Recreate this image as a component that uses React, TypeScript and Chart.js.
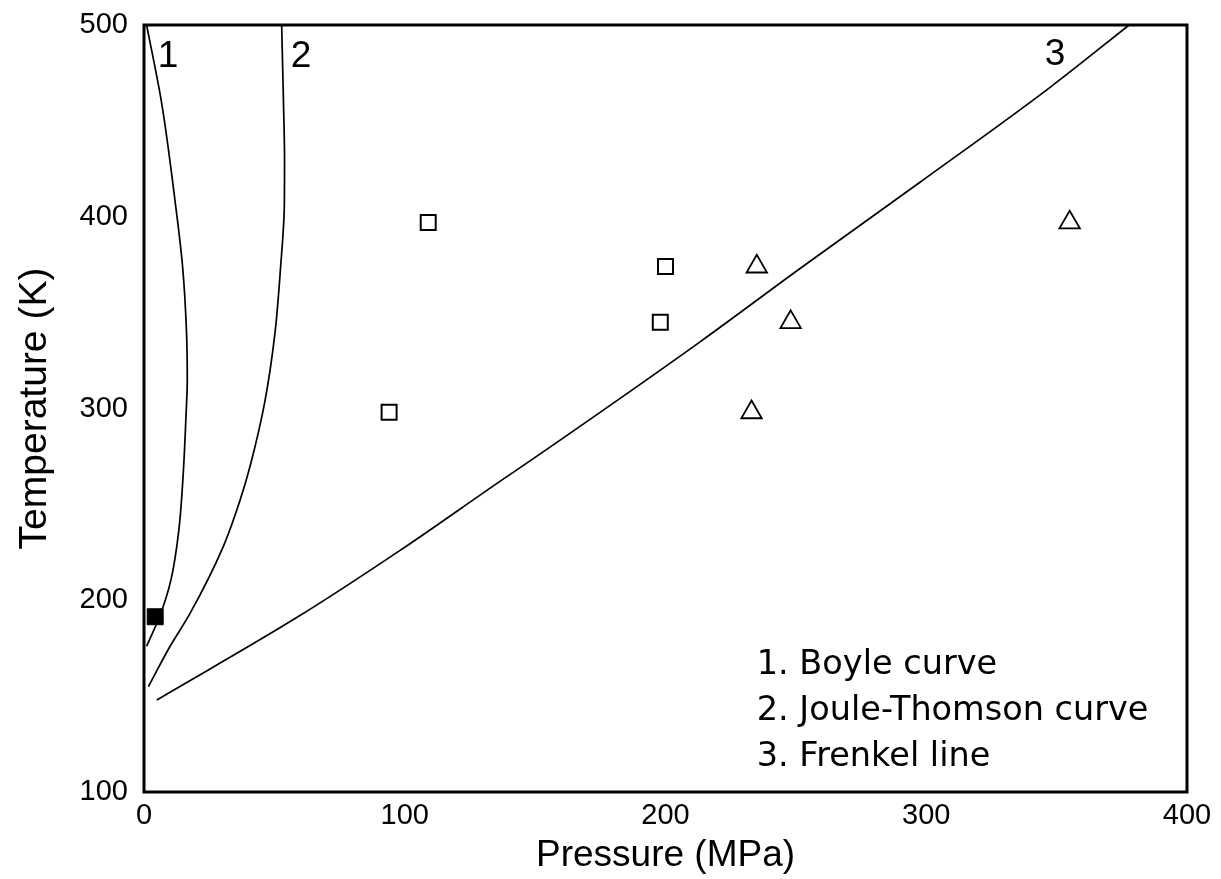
import React, { useEffect, useRef } from "react";
import { Chart, registerables } from "chart.js";

Chart.register(...registerables);

// ---- Data (Pressure in MPa, Temperature in K) ----
const boyleP = [1.0, 6.8, 12.2, 14.8, 16.3, 16.6, 16.1, 15.0, 13.4, 10.4, 6.4, 1.0];
const boyleT = [500, 459, 405, 374, 340, 315, 296, 265, 237, 211, 193, 176];

const jouleP = [52.8, 53.5, 53.9, 53.8, 52.4, 50.2, 46.4, 40.7, 36.8, 30.4, 17.6, 10.0, 1.7];
const jouleT = [500, 459, 430, 405, 374, 339, 304, 270, 252, 228, 193, 176, 155];

const frenkelP = [4.9, 59.8, 98.2, 136.5, 150, 213, 251.6, 297.6, 347.5, 377.8];
const frenkelT = [148, 192, 226, 262, 274.5, 334.5, 373, 418, 467.5, 500];

const squareP = [109, 94, 200, 198];
const squareT = [397, 298, 374, 345];

const triangleP = [235, 248, 233, 355];
const triangleT = [374, 345, 298, 397];

const filledP = [4.3];
const filledT = [191.4];

const xTicks = [0, 100, 200, 300, 400];
const yTicks = [100, 200, 300, 400, 500];

const curveLabels = ["1", "2", "3"];
const legendLines = ["1. Boyle curve", "2. Joule-Thomson curve", "3. Frenkel line"];

// annotation anchors (data coordinates)
const curveLabelAnchors = [
  { p: 9.2, t: 478.3 },
  { p: 60.2, t: 478.3 },
  { p: 349.4, t: 479.1 },
];
const legendAnchor = { p: 235, t: 161.5 };

const toXY = (xs: number[], ys: number[]) => xs.map((x, i) => ({ x, y: ys[i] }));

const ARIAL = "'Liberation Sans', Arial, Helvetica, sans-serif";
const DEJAVU = "'DejaVu Sans', sans-serif";

export default function App() {
  const ref = useRef<HTMLCanvasElement | null>(null);

  useEffect(() => {
    if (!ref.current) return;

    const annotationPlugin = {
      id: "annotations",
      afterDraw(chart: any) {
        const { ctx, chartArea, scales } = chart;
        ctx.save();
        // frame
        ctx.strokeStyle = "#000";
        ctx.lineWidth = 3;
        ctx.strokeRect(
          chartArea.left,
          chartArea.top,
          chartArea.right - chartArea.left,
          chartArea.bottom - chartArea.top
        );
        // curve labels
        ctx.fillStyle = "#000";
        ctx.font = `37px ${ARIAL}`;
        ctx.textAlign = "center";
        ctx.textBaseline = "alphabetic";
        curveLabels.forEach((txt, i) => {
          const a = curveLabelAnchors[i];
          ctx.fillText(txt, scales.x.getPixelForValue(a.p), scales.y.getPixelForValue(a.t));
        });
        // legend text block
        ctx.font = `33.5px ${DEJAVU}`;
        ctx.textAlign = "left";
        const lx = scales.x.getPixelForValue(legendAnchor.p);
        const ly = scales.y.getPixelForValue(legendAnchor.t);
        legendLines.forEach((txt, i) => {
          ctx.fillText(txt, lx, ly + i * 46);
        });
        ctx.restore();
      },
    };

    const lineStyle = {
      showLine: true,
      borderColor: "#000",
      borderWidth: 1.7,
      pointRadius: 0,
      pointHoverRadius: 0,
      fill: false,
    };

    const chart = new Chart(ref.current, {
      type: "scatter",
      data: {
        datasets: [
          {
            label: "filled",
            data: toXY(filledP, filledT),
            pointStyle: "rect",
            pointRadius: 11.3,
            pointHoverRadius: 11.3,
            backgroundColor: "#000",
            borderColor: "#000",
            borderWidth: 1,
          },
          {
            label: "squares",
            data: toXY(squareP, squareT),
            pointStyle: "rect",
            pointRadius: 10.6,
            pointHoverRadius: 10.6,
            backgroundColor: "#fff",
            borderColor: "#000",
            borderWidth: 2,
          },
          {
            label: "triangles",
            data: toXY(triangleP, triangleT),
            pointStyle: "triangle",
            pointRadius: 11.8,
            pointHoverRadius: 11.8,
            backgroundColor: "#fff",
            borderColor: "#000",
            borderWidth: 1.8,
          },
          {
            label: "Boyle curve",
            data: toXY(boyleP, boyleT),
            ...lineStyle,
            indexAxis: "y",
            cubicInterpolationMode: "monotone",
          },
          {
            label: "Joule-Thomson curve",
            data: toXY(jouleP, jouleT),
            ...lineStyle,
            indexAxis: "y",
            cubicInterpolationMode: "monotone",
          },
          {
            label: "Frenkel line",
            data: toXY(frenkelP, frenkelT),
            ...lineStyle,
            cubicInterpolationMode: "monotone",
          },
        ],
      },
      options: {
        animation: false,
        responsive: true,
        maintainAspectRatio: false,
        events: [],
        layout: { padding: { top: 25, right: 34, bottom: 0, left: 0 } },
        plugins: {
          legend: { display: false },
          tooltip: { enabled: false },
        },
        scales: {
          x: {
            type: "linear",
            min: xTicks[0],
            max: xTicks[xTicks.length - 1],
            afterBuildTicks(scale: any) {
              scale.ticks = xTicks.map((v) => ({ value: v }));
            },
            ticks: {
              color: "#000",
              font: { family: ARIAL, size: 29 },
              padding: 7,
              maxRotation: 0,
            },
            grid: { display: false, drawTicks: false },
            border: { display: false },
            title: {
              display: true,
              text: "Pressure (MPa)",
              color: "#000",
              font: { family: ARIAL, size: 37 },
              padding: { top: 0, bottom: 1 },
            },
            afterFit(scale: any) {
              scale.height = 87;
              scale.paddingLeft = 0;
              scale.paddingRight = 0;
            },
          },
          y: {
            type: "linear",
            min: yTicks[0],
            max: yTicks[yTicks.length - 1],
            afterBuildTicks(scale: any) {
              scale.ticks = yTicks.map((v) => ({ value: v }));
            },
            ticks: {
              color: "#000",
              font: { family: ARIAL, size: 29 },
              padding: 16,
            },
            grid: { display: false, drawTicks: false },
            border: { display: false },
            title: {
              display: true,
              text: "Temperature (K)",
              color: "#000",
              font: { family: ARIAL, size: 39 },
              padding: { top: 12, bottom: 0 },
            },
            afterFit(scale: any) {
              scale.width = 144;
              scale.paddingTop = 0;
              scale.paddingBottom = 0;
            },
          },
        },
      },
      plugins: [annotationPlugin],
    } as any);

    return () => chart.destroy();
  }, []);

  return (
    <div
      style={{
        position: "fixed",
        left: 0,
        top: 0,
        width: 1221,
        height: 879,
        background: "#fff",
      }}
    >
      <canvas ref={ref} />
    </div>
  );
}
